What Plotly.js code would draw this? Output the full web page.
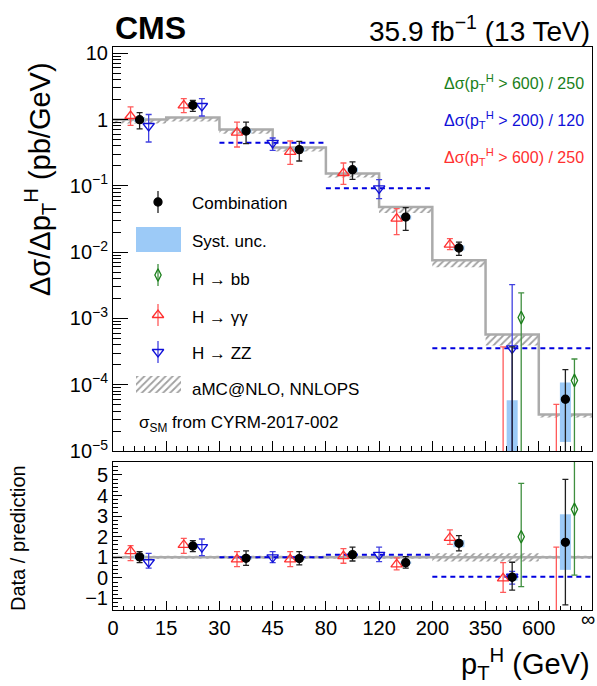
<!DOCTYPE html>
<html><head><meta charset="utf-8">
<script src="https://cdn.plot.ly/plotly-3.0.1.min.js"></script>
<style>html,body{margin:0;padding:0;background:#fff}#chart{width:597px;height:686px}</style>
</head><body><div id="chart"></div>
<script>
// ---------------- DATA ----------------
// pT bin edges (GeV) as tick labels; bins are equally spaced on the axis
const edgeLabels = ['0','15','30','45','80','120','200','350','600','\u221E'];
// bins of the combination / H->gammagamma (edge indices)
const combBins = [[0,1],[1,2],[2,3],[3,4],[4,5],[5,6],[6,7],[7,8],[8,9]];
const zzBins   = [[0,1],[1,2],[2,4],[4,6],[6,9]];
const bbBins   = [[7,8],[8,9]];

// Top panel: d sigma / d pT (pb/GeV). 0 = below the axis range
const theory    = [1.00, 1.07, 0.705, 0.377, 0.153, 0.0479, 0.00751, 5.71e-4, 3.54e-5];
const theoryLow = [0.87, 0.93, 0.61, 0.33, 0.133, 0.039, 0.0059, 3.9e-4, 3.2e-5];

const combVal    = [0.995, 1.64, 0.671, 0.352, 0.175, 0.0338, 0.01154, 0, 6.03e-5];
const combLo     = [0.725, 1.33, 0.432, 0.237, 0.125, 0.0213, 0.00896, 0, 0];
const combHi     = [1.27, 1.95, 0.916, 0.469, 0.229, 0.0469, 0.01419, 3.71e-4, 1.69e-4];
const combSystLo = [0.92, 1.52, 0.62, 0.33, 0.163, 0.031, 0.0106, 0, 1.37e-5];
const combSystHi = [1.09, 1.77, 0.72, 0.38, 0.188, 0.036, 0.0126, 5.82e-5, 1.08e-4];

const ggVal = [1.13, 1.64, 0.634, 0.324, 0.156, 0.032, 0.0130, 0, 0];
const ggLo  = [0.817, 1.27, 0.385, 0.211, 0.105, 0.0184, 0.0109, 0, 0];
const ggHi  = [1.55, 2.07, 0.916, 0.474, 0.221, 0.0453, 0.0160, 3.71e-4, 5.06e-5];

const zzVal = [0.798, 1.60, 0.445, 0.0916, 3.54e-4];
const zzLo  = [0.458, 1.13, 0.343, 0.0641, 0];
const zzHi  = [1.19, 2.07, 0.526, 0.124, 3.24e-3];

const bbVal = [1.03e-3, 1.16e-4];
const bbLo  = [0, 0];
const bbHi  = [2.42e-3, 2.44e-4];

// Bottom panel: data / prediction
const ratioTheory   = [1, 1, 1, 1, 1, 1, 1, 1, 1];
const ratioTheoryLo = [0.93, 0.93, 0.93, 0.93, 0.93, 0.93, 0.80, 0.80, 0.93];
const ratioTheoryHi = [1.07, 1.07, 1.07, 1.07, 1.07, 1.07, 1.20, 1.20, 1.07];

const combRatio       = [1.02, 1.55, 0.95, 0.94, 1.13, 0.74, 1.68, 0.03, 1.73];
const combRatioLo     = [0.74, 1.28, 0.61, 0.63, 0.82, 0.47, 1.31, -0.59, -1.31];
const combRatioHi     = [1.28, 1.81, 1.31, 1.28, 1.49, 1.03, 2.05, 0.76, 4.79];
const combRatioSystLo = [0.92, 1.44, 0.88, 0.87, 1.05, 0.68, 1.49, -0.13, 0.39];
const combRatioSystHi = [1.12, 1.66, 1.03, 1.01, 1.21, 0.80, 1.83, 0.20, 3.09];

const ggRatio   = [1.30, 1.60, 0.90, 0.90, 1.06, 0.66, 1.94, -0.02, -2.5];
const ggRatioLo = [0.84, 1.19, 0.55, 0.55, 0.71, 0.39, 1.63, -0.70, -5];
const ggRatioHi = [1.57, 1.92, 1.28, 1.28, 1.42, 0.97, 2.33, 0.74, 1.49];

const zzRatio   = [0.76, 1.49, 1.00, 1.12, 0.06];
const zzRatioLo = [0.47, 1.08, 0.74, 0.79, -0.30];
const zzRatioHi = [1.19, 1.89, 1.28, 1.49, 0.32];

const bbRatio   = [2.00, 3.33];
const bbRatioLo = [-0.42, 0.13];
const bbRatioHi = [4.59, 6.0];

// ---------------- STYLE ----------------
const FONT = 'Liberation Sans, Arial, Helvetica, sans-serif';
const C_BLACK = '#000000', C_RED = '#ff3030', C_BLUE = '#1010d8', C_GREEN = '#1a7f1a';
const C_SYST = '#9ccaf7', C_GRAY = '#ababab', C_DASH = '#0000e0';
const NB = edgeLabels.length - 1;
const OFF = 0.17;
const FLOOR = 1e-9;

function centers(bins, off) {
  return bins.map(b => (b[0] + b[1]) / 2 + ((b[1] - b[0]) === 1 ? off : 0));
}
function pos(v) { return v > 0 ? v : FLOOR; }
function logErr(vals, lo, hi) {
  const y = vals.map(pos);
  return {
    y: y,
    plus: hi.map((h, i) => pos(h) - y[i]),
    minus: lo.map((l, i) => y[i] - (l > 0 ? l : FLOOR / 10))
  };
}
function linErr(vals, lo, hi) {
  return { y: vals, plus: hi.map((h, i) => h - vals[i]), minus: lo.map((l, i) => vals[i] - l) };
}
function step(vals) {
  const x = []; for (let i = 0; i <= NB; i++) x.push(i);
  return { x: x, y: vals.concat([vals[vals.length - 1]]) };
}
function wideLines(bins, vals) {
  const x = [], y = [];
  bins.forEach((b, i) => { if (b[1] - b[0] > 1) { x.push(b[0], b[1], null); y.push(vals[i], vals[i], null); } });
  return { x: x, y: y };
}
function pointTrace(xs, e, xa, ya, symbol, color, barColor, size) {
  return {
    type: 'scatter', mode: 'markers', x: xs, y: e.y, xaxis: xa, yaxis: ya,
    marker: { symbol: symbol, size: size, color: color, line: { color: color, width: 1.3 } },
    error_y: { type: 'data', symmetric: false, array: e.plus, arrayminus: e.minus,
               color: barColor, thickness: 1.3, width: 3 },
    hoverinfo: 'skip', showlegend: false
  };
}
function systTrace(xs, lo, hi, xa, ya, isLog) {
  const top = hi.map(v => isLog ? pos(v) : v);
  const bot = lo.map(v => isLog ? (v > 0 ? v : FLOOR) : v);
  return {
    type: 'scatter', mode: 'markers', x: xs, y: top, xaxis: xa, yaxis: ya,
    marker: { size: 1, color: 'rgba(0,0,0,0)' },
    error_y: { type: 'data', symmetric: false, array: top.map(() => 0),
               arrayminus: top.map((t, i) => t - bot[i]), color: C_SYST, thickness: 11, width: 0 },
    hoverinfo: 'skip', showlegend: false
  };
}
function bandTraces(lo, hi, line, xa, ya) {
  const sl = step(lo), sh = step(hi), sc = step(line);
  return [
    { type: 'scatter', mode: 'lines', x: sl.x, y: sl.y, xaxis: xa, yaxis: ya,
      line: { shape: 'hv', width: 0, color: 'rgba(0,0,0,0)' }, hoverinfo: 'skip', showlegend: false },
    { type: 'scatter', mode: 'lines', x: sh.x, y: sh.y, xaxis: xa, yaxis: ya, fill: 'tonexty',
      fillcolor: 'rgba(0,0,0,0)',
      fillpattern: { shape: '/', fgcolor: '#a0a0a0', bgcolor: 'rgba(0,0,0,0)', size: 5, solidity: 0.35 },
      line: { shape: 'hv', width: 0, color: 'rgba(0,0,0,0)' }, hoverinfo: 'skip', showlegend: false },
    { type: 'scatter', mode: 'lines', x: sc.x, y: sc.y, xaxis: xa, yaxis: ya,
      line: { shape: 'hv', width: 2.5, color: C_GRAY }, hoverinfo: 'skip', showlegend: false }
  ];
}

const combX = centers(combBins, 0), ggX = centers(combBins, -OFF);
const zzX = centers(zzBins, OFF), bbX = centers(bbBins, OFF);

const traces = [];
// ---- top panel ----
traces.push(...bandTraces(theoryLow, theory, theory, 'x', 'y'));
traces.push(systTrace(combX, combSystLo, combSystHi, 'x', 'y', true));
const zl = wideLines(zzBins, zzVal);
traces.push({ type: 'scatter', mode: 'lines', x: zl.x, y: zl.y, xaxis: 'x', yaxis: 'y',
  line: { color: C_DASH, width: 2, dash: '5px,4px' }, connectgaps: false, hoverinfo: 'skip', showlegend: false });
traces.push(pointTrace(ggX, logErr(ggVal, ggLo, ggHi), 'x', 'y', 'triangle-up-open', C_RED, '#ff5a5a', 10));
traces.push(pointTrace(zzX, logErr(zzVal, zzLo, zzHi), 'x', 'y', 'triangle-down-open', C_BLUE, '#4040e0', 10));
traces.push(pointTrace(bbX, logErr(bbVal, bbLo, bbHi), 'x', 'y', 'diamond-tall-open', C_GREEN, '#3f8f3f', 9));
traces.push(pointTrace(combX, logErr(combVal, combLo, combHi), 'x', 'y', 'circle', C_BLACK, '#202020', 8));

// ---- ratio panel ----
traces.push(...bandTraces(ratioTheoryLo, ratioTheoryHi, ratioTheory, 'x2', 'y2'));
traces.push(systTrace(combX, combRatioSystLo, combRatioSystHi, 'x2', 'y2', false));
const zlr = wideLines(zzBins, zzRatio);
traces.push({ type: 'scatter', mode: 'lines', x: zlr.x, y: zlr.y, xaxis: 'x2', yaxis: 'y2',
  line: { color: C_DASH, width: 2, dash: '5px,4px' }, connectgaps: false, hoverinfo: 'skip', showlegend: false });
traces.push(pointTrace(ggX, linErr(ggRatio, ggRatioLo, ggRatioHi), 'x2', 'y2', 'triangle-up-open', C_RED, '#ff5a5a', 10));
traces.push(pointTrace(zzX, linErr(zzRatio, zzRatioLo, zzRatioHi), 'x2', 'y2', 'triangle-down-open', C_BLUE, '#4040e0', 10));
traces.push(pointTrace(bbX, linErr(bbRatio, bbRatioLo, bbRatioHi), 'x2', 'y2', 'diamond-tall-open', C_GREEN, '#3f8f3f', 9));
traces.push(pointTrace(combX, linErr(combRatio, combRatioLo, combRatioHi), 'x2', 'y2', 'circle', C_BLACK, '#202020', 8));

// ---- legend samples (drawn on a hidden overlay axis measured in pixels of the top frame) ----
const LEG_X = 45, LEG_HALF = 11;
const legRows = { comb: 155, syst: [180, 205], bb: 228, gg: 268, zz: 305, hatch: [329, 346] };
function legPoint(y, symbol, color, barColor, size) {
  return { type: 'scatter', mode: 'markers', x: [LEG_X], y: [y], xaxis: 'x3', yaxis: 'y3',
    marker: { symbol: symbol, size: size, color: color, line: { color: color, width: 1.3 } },
    error_y: { type: 'data', array: [LEG_HALF], color: barColor, thickness: 1.3, width: 0 },
    hoverinfo: 'skip', showlegend: false };
}
function legBox(yr, fill, pattern) {
  const t = { type: 'scatter', mode: 'lines', x: [23, 68, 68, 23, 23], y: [yr[0], yr[0], yr[1], yr[1], yr[0]],
    xaxis: 'x3', yaxis: 'y3', fill: 'toself', fillcolor: fill, line: { width: 0, color: 'rgba(0,0,0,0)' },
    hoverinfo: 'skip', showlegend: false };
  if (pattern) t.fillpattern = { shape: '/', fgcolor: '#a0a0a0', bgcolor: 'rgba(0,0,0,0)', size: 5, solidity: 0.35 };
  return t;
}
traces.push(legPoint(legRows.comb, 'circle', C_BLACK, '#202020', 8));
traces.push(legBox(legRows.syst, C_SYST, false));
traces.push(legPoint(legRows.bb, 'diamond-tall-open', C_GREEN, '#3f8f3f', 9));
traces.push(legPoint(legRows.gg, 'triangle-up-open', C_RED, '#ff5a5a', 10));
traces.push(legPoint(legRows.zz, 'triangle-down-open', C_BLUE, '#4040e0', 10));
traces.push(legBox(legRows.hatch, 'rgba(0,0,0,0)', true));

// ---------------- LAYOUT ----------------
const W = 597, H = 686, ML = 113, MR = 5, MT = 47, MB = 76;
const PW = W - ML - MR, PH = H - MT - MB;
const px = X => (X - ML) / PW;
const py = Y => (H - MB - Y) / PH;
const topBottomPx = 451, ratioTopPx = 462;

const logTickVals = [], logTickText = [], logMinor = [];
for (let d = -5; d <= 1; d++) {
  logTickVals.push(Math.pow(10, d));
  logTickText.push(d === 0 ? '1' : d === 1 ? '10' : '10<sup>\u2212' + (-d) + '</sup>');
  for (let m = 2; m <= 9; m++) { const v = m * Math.pow(10, d); if (v < 12.4) logMinor.push(v); }
}
const xTickVals = edgeLabels.map((_, i) => i);
// last edge label (infinity) sits on the frame corner; it is drawn as an annotation so it stays inside the page
const xTickText = edgeLabels.map((t, i) => i === NB ? '' : t);

const axBase = { showline: true, mirror: true, linecolor: '#000', linewidth: 1, showgrid: false,
  zeroline: false, ticks: 'inside', tickcolor: '#000', tickwidth: 1,
  tickfont: { family: FONT, size: 20, color: '#000' }, fixedrange: true };

function ann(text, X, Y, opts) {
  return Object.assign({ text: text, x: px(X), y: py(Y), xref: 'paper', yref: 'paper', showarrow: false,
    xanchor: 'left', yanchor: 'middle', font: { family: FONT, size: 17, color: '#000' } }, opts || {});
}

const layout = {
  width: W, height: H,
  margin: { l: ML, r: MR, t: MT, b: MB, pad: 0 },
  paper_bgcolor: '#ffffff', plot_bgcolor: 'rgba(0,0,0,0)',
  showlegend: false,
  font: { family: FONT, size: 20, color: '#000' },
  xaxis: Object.assign({}, axBase, { domain: [0, 1], anchor: 'y', range: [0, NB], tickmode: 'array',
    tickvals: xTickVals, ticktext: xTickText, showticklabels: false, ticklen: 10,
    minor: { tickmode: 'linear', tick0: 0, dtick: 0.2, ticks: 'inside', ticklen: 5, tickcolor: '#000', tickwidth: 1, showgrid: false } }),
  yaxis: Object.assign({}, axBase, { domain: [(H - MB - topBottomPx) / PH, 1], anchor: 'x', type: 'log',
    range: [-5, 1.094], tickmode: 'array', tickvals: logTickVals, ticktext: logTickText, ticklen: 15,
    minor: { tickmode: 'array', tickvals: logMinor, ticks: 'inside', ticklen: 8, tickcolor: '#000', tickwidth: 1, showgrid: false } }),
  xaxis2: Object.assign({}, axBase, { domain: [0, 1], anchor: 'y2', range: [0, NB], tickmode: 'array',
    tickvals: xTickVals, ticktext: xTickText, showticklabels: true, ticklen: 9,
    minor: { tickmode: 'linear', tick0: 0, dtick: 0.2, ticks: 'inside', ticklen: 4.5, tickcolor: '#000', tickwidth: 1, showgrid: false } }),
  yaxis2: Object.assign({}, axBase, { domain: [0, (H - MB - ratioTopPx) / PH], anchor: 'x2', range: [-1.56, 5.63],
    tickmode: 'array', tickvals: [-1, 0, 1, 2, 3, 4, 5], ticktext: ['\u22121', '0', '1', '2', '3', '4', '5'], ticklen: 9,
    minor: { tickmode: 'linear', tick0: 0, dtick: 0.2, ticks: 'inside', ticklen: 5, tickcolor: '#000', tickwidth: 1, showgrid: false } }),
  xaxis3: { overlaying: 'x', anchor: 'y3', range: [0, PW], visible: false, fixedrange: true },
  yaxis3: { overlaying: 'y', anchor: 'x3', range: [topBottomPx - MT, 0], visible: false, fixedrange: true },
  annotations: [
    ann('<b>CMS</b>', 113, 28, { font: { family: FONT, size: 32, color: '#000' } }),
    ann('35.9 fb<sup>\u22121</sup> (13 TeV)', 592, 29, { xanchor: 'right', font: { family: FONT, size: 28, color: '#000' } }),
    ann('\u0394\u03C3(p<sub>T</sub><sup>H</sup> > 600) / 250', 586, 83, { xanchor: 'right', font: { family: FONT, size: 16, color: C_GREEN } }),
    ann('\u0394\u03C3(p<sub>T</sub><sup>H</sup> > 200) / 120', 586, 120, { xanchor: 'right', font: { family: FONT, size: 16, color: C_BLUE } }),
    ann('\u0394\u03C3(p<sub>T</sub><sup>H</sup> > 600) / 250', 586, 157, { xanchor: 'right', font: { family: FONT, size: 16, color: C_RED } }),
    ann('Combination', 190, 203),
    ann('Syst. unc.', 190, 242),
    ann('H \u2192 bb', 190, 279),
    ann('H \u2192 \u03B3\u03B3', 190, 317),
    ann('H \u2192 ZZ', 190, 353),
    ann('aMC@NLO, NNLOPS', 190, 389),
    ann('\u03C3<sub>SM</sub> from CYRM-2017-002', 137, 424),
    ann(edgeLabels[NB], 596, 619, { xanchor: 'right', borderpad: 0, font: { family: FONT, size: 20, color: '#000' } }),
    ann('\u0394\u03C3/\u0394p<sub>T</sub><sup>H</sup> (pb/GeV)', 40, 60, { xanchor: 'center', yanchor: 'top', textangle: -90,
      font: { family: FONT, size: 29, color: '#000' } }),
    ann('Data / prediction', 18, 463, { xanchor: 'center', yanchor: 'top', textangle: -90,
      font: { family: FONT, size: 20, color: '#000' } }),
    ann('p<sub>T</sub><sup>H</sup> (GeV)', 592, 664, { xanchor: 'right', font: { family: FONT, size: 29, color: '#000' } })
  ]
};

Plotly.newPlot('chart', traces, layout, { displayModeBar: false, staticPlot: true });
</script>
</body></html>
